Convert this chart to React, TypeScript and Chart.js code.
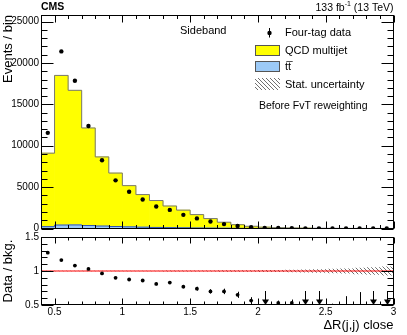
import React, { useEffect, useRef } from 'react';
import { Chart, registerables } from 'chart.js';

Chart.register(...registerables);

const FONT = '"Liberation Sans", Arial, Helvetica, sans-serif';

// ---- data ----
const binCenters = [0.45, 0.55, 0.65, 0.75, 0.85, 0.95, 1.05, 1.15, 1.25, 1.35, 1.45, 1.55, 1.65, 1.75, 1.85, 1.95, 2.05, 2.15, 2.25, 2.35, 2.45, 2.55, 2.65, 2.75, 2.85, 2.95];
const binEdges = [0.4, 0.5, 0.6, 0.7, 0.8, 0.9, 1.0, 1.1, 1.2, 1.3, 1.4, 1.5, 1.6, 1.7, 1.8, 1.9, 2.0, 2.1, 2.2, 2.3, 2.4, 2.5, 2.6, 2.7, 2.8, 2.9, 3.0];
const qcdMultijet = [8880, 18080, 16270, 11790, 8350, 6460, 4980, 3940, 3250, 2615, 2135, 1615, 1150, 724, 434, 252, 148, 91, 59, 38, 25, 16, 11, 7, 4, 2.5];
const ttbar = [220, 420, 430, 360, 300, 240, 200, 160, 130, 105, 85, 65, 50, 36, 26, 18, 12, 9, 6, 4, 3, 2, 1, 1, 1, 0.5];
const fourTagData = [11560, 21400, 17850, 12380, 8250, 5820, 4450, 3500, 2660, 2250, 1650, 1220, 850, 530, 300, 150, 64, 53, 34, 15, 8, 9, 4, 3, 1, 0];
const dataOverBkg = [1.27, 1.16, 1.08, 1.03, 0.965, 0.9, 0.875, 0.86, 0.81, 0.83, 0.77, 0.74, 0.7, 0.7, 0.65, 0.565, 0.4, 0.53, 0.53, 0.35, 0.3, 0.47, 0.35, 0.4, 0.2, 0.1];
const dataOverBkgErr = [0.012, 0.008, 0.009, 0.01, 0.012, 0.014, 0.016, 0.018, 0.02, 0.022, 0.025, 0.028, 0.032, 0.04, 0.045, 0.05, 0.05, 0.035, 0.05, 0.1, 0.12, 0.05, 0.28, 0.29, 0.25, 0.3];
const bkgStatUnc = [0.003, 0.002, 0.002, 0.003, 0.003, 0.004, 0.004, 0.005, 0.005, 0.006, 0.007, 0.008, 0.009, 0.01, 0.011, 0.012, 0.014, 0.016, 0.019, 0.023, 0.027, 0.032, 0.038, 0.046, 0.056, 0.068];
const mainYTicks = [0, 5000, 10000, 15000, 20000, 25000];
const ratioYTicks = [0.5, 1, 1.5];
const xTicks = [0.5, 1, 1.5, 2, 2.5, 3];

const stepPts = (vals: number[]) =>
  binEdges.map((e, i) => ({ x: e, y: vals[Math.min(i, vals.length - 1)] }));

function makeHatch(): CanvasPattern | string {
  const c = document.createElement('canvas');
  c.width = 4;
  c.height = 4;
  const g = c.getContext('2d');
  if (!g) return '#999';
  g.strokeStyle = '#707070';
  g.lineWidth = 1;
  g.beginPath();
  g.moveTo(-1, -1); g.lineTo(5, 5);
  g.moveTo(-1, 3); g.lineTo(1, 5);
  g.moveTo(3, -1); g.lineTo(5, 1);
  g.stroke();
  return g.createPattern(c, 'repeat') || '#999';
}

type FrameCfg = { xMajor: number; xMinor: number; yMajor: number; yMinor: number; xMaj: number; xMin: number; yMaj: number; yMin: number };

function framePlugin(cfg: FrameCfg) {
  return {
    id: 'frameTicks',
    afterDatasetsDraw(chart: any) {
      const { ctx, chartArea: a, scales } = chart;
      const x = scales.x, y = scales.y;
      const L = Math.round(a.left) + 0.5, R = Math.round(a.right) - 0.5;
      const T = Math.round(a.top) + 0.5, B = Math.round(a.bottom) - 0.5;
      ctx.save();
      ctx.strokeStyle = '#000';
      ctx.lineWidth = 1;
      ctx.strokeRect(L, T, R - L, B - T);
      ctx.beginPath();
      const isMajor = (v: number, m: number) => Math.abs(v / m - Math.round(v / m)) < 1e-6;
      const nx = Math.round((x.max - x.min) / cfg.xMinor);
      for (let k = 0; k <= nx; k++) {
        const v = x.min + k * cfg.xMinor;
        const len = isMajor(v, cfg.xMajor) ? cfg.xMaj : cfg.xMin;
        const px = Math.round(x.getPixelForValue(v)) + 0.5;
        ctx.moveTo(px, B); ctx.lineTo(px, B - len);
        ctx.moveTo(px, T); ctx.lineTo(px, T + len);
      }
      const ny = Math.floor((y.max - y.min) / cfg.yMinor + 1e-6);
      for (let k = 0; k <= ny; k++) {
        const v = y.min + k * cfg.yMinor;
        const len = isMajor(v, cfg.yMajor) ? cfg.yMaj : cfg.yMin;
        const py = Math.round(y.getPixelForValue(v)) + 0.5;
        ctx.moveTo(L, py); ctx.lineTo(L + len, py);
        ctx.moveTo(R, py); ctx.lineTo(R - len, py);
      }
      ctx.stroke();
      ctx.restore();
    },
  };
}

export default function App() {
  const r1 = useRef<HTMLCanvasElement>(null);
  const r2 = useRef<HTMLCanvasElement>(null);

  useEffect(() => {
    Chart.defaults.color = '#000';
    Chart.defaults.font.family = FONT;
    const hatch = makeHatch();
    const total = qcdMultijet.map((q, i) => q + ttbar[i]);

    const annotations = {
      id: 'annotations',
      afterDraw(chart: any) {
        const ctx = chart.ctx as CanvasRenderingContext2D;
        ctx.save();
        ctx.fillStyle = '#000';
        ctx.textBaseline = 'alphabetic';
        ctx.textAlign = 'left';
        ctx.font = `bold 10.5px ${FONT}`;
        ctx.fillText('CMS', 41, 10);
        const big = `10.5px ${FONT}`, small = `7px ${FONT}`;
        ctx.font = big;
        const w1 = ctx.measureText('133 fb').width;
        const w3 = ctx.measureText(' (13 TeV)').width;
        ctx.font = small;
        const w2 = ctx.measureText('-1').width;
        let sx = 393.5 - (w1 + w2 + w3);
        ctx.font = big; ctx.fillText('133 fb', sx, 10.5); sx += w1;
        ctx.font = small; ctx.fillText('-1', sx, 6); sx += w2;
        ctx.font = big; ctx.fillText(' (13 TeV)', sx, 10.5);

        ctx.textBaseline = 'middle';
        ctx.font = `11px ${FONT}`;
        ctx.fillText('Sideband', 180, 30.5);
        ctx.fillText('Four-tag data', 285, 33);
        ctx.fillText('QCD multijet', 285, 50.5);
        ctx.fillText('t\u0074\u0305', 285, 67);
        ctx.fillText('Stat. uncertainty', 285, 84.5);
        ctx.font = `10.5px ${FONT}`;
        ctx.fillText('Before FvT reweighting', 259, 106);
        ctx.strokeStyle = '#000';
        ctx.lineWidth = 1;
        ctx.beginPath(); ctx.moveTo(269.5, 28); ctx.lineTo(269.5, 37.5); ctx.stroke();
        ctx.beginPath(); ctx.arc(269.5, 33, 2.2, 0, Math.PI * 2); ctx.fill();
        ctx.fillStyle = '#ffff00'; ctx.fillRect(255.5, 45.5, 24, 10);
        ctx.strokeStyle = '#555'; ctx.strokeRect(255.5, 45.5, 24, 10);
        ctx.fillStyle = '#9ccaf7'; ctx.fillRect(255.5, 61.5, 24, 10);
        ctx.strokeRect(255.5, 61.5, 24, 10);
        ctx.fillStyle = hatch as any; ctx.fillRect(255, 78, 25, 12);
        ctx.restore();
      },
    };

    const c1 = new Chart(r1.current!, {
      type: 'bar',
      data: {
        datasets: [
          { type: 'line', label: 'Four-tag data', data: binCenters.map((x, i) => ({ x, y: fourTagData[i] })), showLine: false, pointRadius: 2.2, pointHoverRadius: 2.2, pointBackgroundColor: '#000', pointBorderWidth: 0, order: 0 } as any,
          { type: 'line', label: 'tt outline', data: stepPts(ttbar), borderColor: '#2f55b0', borderWidth: 1, pointRadius: 0, stepped: 'before', order: 1 } as any,
          { type: 'bar', label: 'tt', data: binCenters.map((x, i) => ({ x, y: ttbar[i] })), backgroundColor: '#9ccaf7', borderWidth: 0, grouped: false, barPercentage: 1, categoryPercentage: 1, order: 2 } as any,
          { type: 'line', label: 'QCD outline', data: stepPts(total), borderColor: '#777777', borderWidth: 1, pointRadius: 0, stepped: 'before', order: 3 } as any,
          { type: 'bar', label: 'QCD multijet', data: binCenters.map((x, i) => ({ x, y: total[i] })), backgroundColor: '#ffff00', borderWidth: 0, grouped: false, barPercentage: 1, categoryPercentage: 1, order: 4 } as any,
        ],
      },
      options: {
        animation: false,
        responsive: false,
        devicePixelRatio: 1,
        layout: { padding: { left: 0, right: 13.5, top: 15, bottom: 106.5 } },
        plugins: { legend: { display: false }, tooltip: { enabled: false } },
        scales: {
          x: { type: 'linear', min: 0.4, max: 3.0, offset: false, display: false, grid: { display: false } },
          y: {
            type: 'linear', min: 0, max: 25800,
            afterFit: (s: any) => { s.width = 41; },
            afterBuildTicks: (s: any) => { s.ticks = mainYTicks.map((v) => ({ value: v })); },
            ticks: { font: { family: FONT, size: 10 }, color: '#000', padding: 2, callback: (v: any) => String(v) },
            grid: { display: false, drawTicks: false },
            border: { display: false },
            title: { display: true, text: 'Events / bin', align: 'end', font: { family: FONT, size: 13 }, color: '#000', padding: { top: 1, bottom: 0 } },
          },
        },
      } as any,
      plugins: [framePlugin({ xMajor: 0.5, xMinor: 0.1, yMajor: 5000, yMinor: 1000, xMaj: 7, xMin: 3.5, yMaj: 12, yMin: 6 }), annotations] as any,
    });

    const ratioMarks = {
      id: 'ratioMarks',
      afterDatasetsDraw(chart: any) {
        const { ctx, chartArea: a, scales } = chart;
        const x = scales.x, y = scales.y;
        ctx.save();
        ctx.strokeStyle = '#000';
        ctx.fillStyle = '#000';
        ctx.lineWidth = 1;
        binCenters.forEach((c, i) => {
          const v = dataOverBkg[i], e = dataOverBkgErr[i];
          const px = Math.round(x.getPixelForValue(c)) + 0.5;
          if (v >= y.min) {
            const t = y.getPixelForValue(Math.min(v + e, y.max));
            const b = y.getPixelForValue(Math.max(v - e, y.min));
            ctx.beginPath(); ctx.moveTo(px, t); ctx.lineTo(px, b); ctx.stroke();
          } else if (v + e > y.min) {
            const t = y.getPixelForValue(v + e);
            ctx.beginPath(); ctx.moveTo(px, t); ctx.lineTo(px, a.bottom); ctx.stroke();
          } else {
            ctx.beginPath(); ctx.moveTo(px, a.bottom - 14); ctx.lineTo(px, a.bottom - 3); ctx.stroke();
            ctx.beginPath();
            ctx.moveTo(px - 3.5, a.bottom - 5.5);
            ctx.lineTo(px + 3.5, a.bottom - 5.5);
            ctx.lineTo(px, a.bottom);
            ctx.closePath();
            ctx.fill();
          }
        });
        ctx.restore();
      },
    };

    const c2 = new Chart(r2.current!, {
      type: 'line',
      data: {
        datasets: [
          { label: 'Data / bkg.', data: binCenters.map((x, i) => ({ x, y: dataOverBkg[i] >= 0.5 ? dataOverBkg[i] : null })), showLine: false, pointRadius: 1.9, pointHoverRadius: 1.9, pointBackgroundColor: '#000', pointBorderWidth: 0, order: 0 } as any,
          { label: 'unity', data: [{ x: 0.4, y: 1 }, { x: 3.0, y: 1 }], borderColor: '#ff0000', borderWidth: 1, pointRadius: 0, fill: false, order: 1 } as any,
          { label: 'unc low', data: stepPts(bkgStatUnc.map((e) => 1 - e)), borderWidth: 0, borderColor: 'rgba(0,0,0,0)', pointRadius: 0, stepped: 'before', fill: false, order: 2 } as any,
          { label: 'Stat. uncertainty', data: stepPts(bkgStatUnc.map((e) => 1 + e)), borderWidth: 0, borderColor: 'rgba(0,0,0,0)', pointRadius: 0, stepped: 'before', fill: '-1', backgroundColor: hatch, order: 3 } as any,
        ],
      },
      options: {
        animation: false,
        responsive: false,
        devicePixelRatio: 1,
        layout: { padding: { left: 0, right: 13.5, top: 237, bottom: 0 } },
        plugins: { legend: { display: false }, tooltip: { enabled: false } },
        scales: {
          x: {
            type: 'linear', min: 0.4, max: 3.0, offset: false,
            afterFit: (s: any) => { s.height = 30; },
            afterBuildTicks: (s: any) => { s.ticks = xTicks.map((v) => ({ value: v })); },
            ticks: { font: { family: FONT, size: 10 }, color: '#000', padding: 1, maxRotation: 0, autoSkip: false, callback: (v: any) => String(v) },
            grid: { display: false, drawTicks: false },
            border: { display: false },
            title: { display: true, text: '\u0394R(j,j) close', align: 'end', font: { family: FONT, size: 13 }, color: '#000', padding: { top: 0, bottom: 2 } },
          },
          y: {
            type: 'linear', min: 0.5, max: 1.5,
            afterFit: (s: any) => { s.width = 41; },
            afterBuildTicks: (s: any) => { s.ticks = ratioYTicks.map((v) => ({ value: v })); },
            ticks: { font: { family: FONT, size: 10 }, color: '#000', padding: 2, callback: (v: any) => String(v) },
            grid: { display: false, drawTicks: false },
            border: { display: false },
            title: { display: true, text: 'Data / bkg.', align: 'center', font: { family: FONT, size: 13 }, color: '#000', padding: { top: 1, bottom: 0 } },
          },
        },
      } as any,
      plugins: [framePlugin({ xMajor: 0.5, xMinor: 0.1, yMajor: 0.5, yMinor: 0.1, xMaj: 6, xMin: 3, yMaj: 12, yMin: 6 }), ratioMarks] as any,
    });

    return () => {
      c1.destroy();
      c2.destroy();
    };
  }, []);

  const cs: React.CSSProperties = { position: 'absolute', left: 0, top: 0, width: 407, height: 335 };
  return (
    <div style={{ position: 'absolute', left: 0, top: 0, width: 407, height: 335, background: '#fff' }}>
      <canvas ref={r1} width={407} height={335} style={cs} />
      <canvas ref={r2} width={407} height={335} style={cs} />
    </div>
  );
}
